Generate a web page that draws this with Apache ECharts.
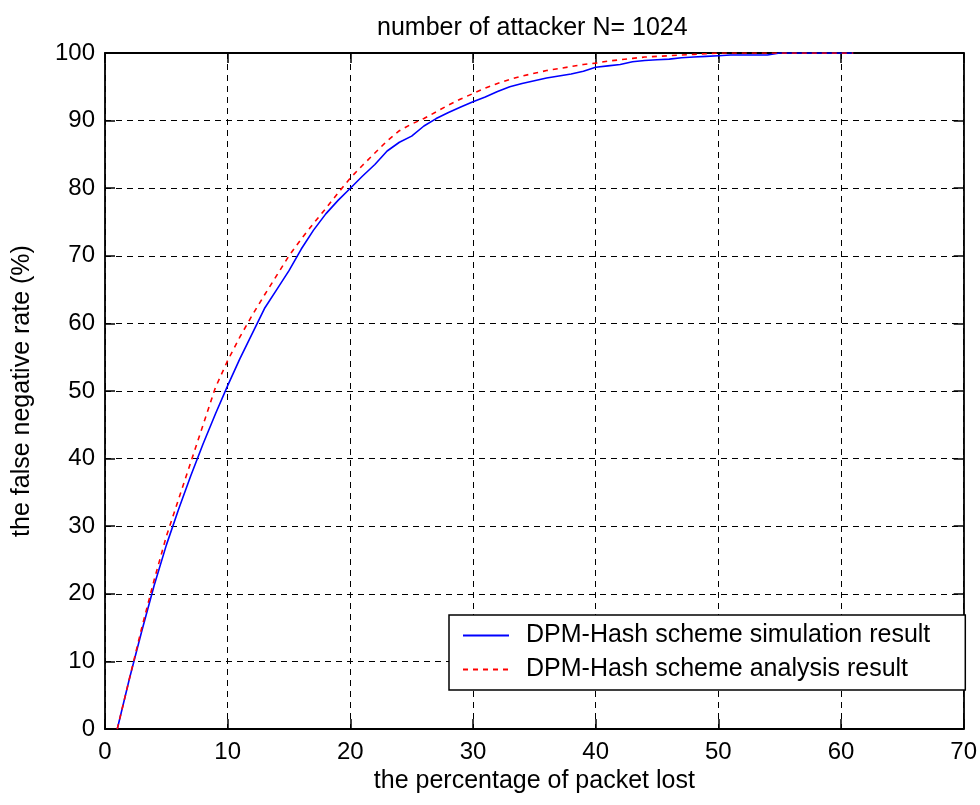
<!DOCTYPE html>
<html>
<head>
<meta charset="utf-8">
<script src="https://cdn.jsdelivr.net/npm/echarts@6/dist/echarts.min.js"></script>
<style>
  html, body { margin: 0; padding: 0; background: #fff; }
  #chart { width: 980px; height: 805px; }
</style>
</head>
<body>
<div id="chart"></div>
<script>
// packet loss percentage (x)
var lossPct = [1, 2, 3, 4, 5, 6, 7, 8, 9, 10,
    11, 12, 13, 14, 15, 16, 17, 18, 19, 20,
    21, 22, 23, 24, 25, 26, 27, 28, 29, 30,
    31, 32, 33, 34, 35, 36, 37, 38, 39, 40,
    41, 42, 43, 44, 45, 46, 47, 48, 49, 50,
    51, 52, 53, 54, 55, 56, 57, 58, 59, 60, 61];

// simulation result (blue solid)
var simRate = [0, 7.5, 14.5, 21.2, 27.2, 32.5, 37.5, 42.2, 46.6, 50.8,
    54.8, 58.5, 62.2, 65.0, 67.8, 71.0, 73.8, 76.2, 78.2, 80.0,
    81.8, 83.5, 85.5, 86.8, 87.7, 89.2, 90.3, 91.2, 92.0, 92.8,
    93.5, 94.3, 95.0, 95.5, 95.9, 96.3, 96.6, 96.9, 97.3, 97.9,
    98.1, 98.3, 98.7, 98.9, 99.0, 99.1, 99.3, 99.4, 99.5, 99.6,
    99.7, 99.7, 99.7, 99.7, 100, 100, 100, 100, 100, 100, 100];

// analysis result (red dashed)
var anaRate = [0, 7.5, 15.0, 22.0, 28.5, 34.0, 39.5, 45.0, 50.5, 54.5,
    58.0, 61.2, 64.2, 67.1, 70.0, 72.5, 74.8, 77.0, 79.3, 81.5,
    83.4, 85.2, 87.0, 88.5, 89.5, 90.3, 91.3, 92.3, 93.2, 94.0,
    94.8, 95.5, 96.1, 96.6, 97.0, 97.4, 97.7, 98.0, 98.3, 98.5,
    98.8, 99.0, 99.2, 99.4, 99.5, 99.6, 99.7, 99.8, 99.9, 100,
    100, 100, 100, 100, 100, 100, 100, 100, 100, 100, 100];

var seriesNames = ['DPM-Hash scheme simulation result', 'DPM-Hash scheme analysis result'];

function pairs(xs, ys) {
    var out = [];
    for (var i = 0; i < xs.length; i++) {
        out.push([xs[i], ys[i]]);
    }
    return out;
}

var FONT = 'Arial, "Liberation Sans", sans-serif';

var gridLine = { show: true, lineStyle: { color: '#000', width: 1, type: [6, 5] } };
var frame = { show: true, onZero: false, lineStyle: { color: '#000', width: 1.8 } };
var innerTick = { show: true, inside: true, length: 10, lineStyle: { color: '#000', width: 1.5 } };

var option = {
    backgroundColor: '#fff',
    animation: false,
    title: {
        text: 'number of attacker N= 1024',
        left: 372,
        top: 11,
        textStyle: { fontFamily: FONT, fontSize: 25, fontWeight: 'normal', color: '#000' }
    },
    grid: { left: 105, right: 15, top: 53, bottom: 76, containLabel: false },
    legend: {
        orient: 'vertical',
        left: 449,
        top: 615,
        padding: [8, 35, 8, 13],
        itemGap: 9,
        itemWidth: 46,
        itemHeight: 24,
        backgroundColor: '#fff',
        borderColor: '#000',
        borderWidth: 1.5,
        borderRadius: 0,
        selectedMode: false,
        itemStyle: { opacity: 0 },
        textStyle: { fontFamily: FONT, fontSize: 25, color: '#000', padding: [0, 0, 0, 12] },
        data: seriesNames
    },
    xAxis: [
        {
            type: 'value', min: 0, max: 70, interval: 10,
            name: 'the percentage of packet lost',
            nameLocation: 'middle', nameGap: 35,
            nameTextStyle: { fontFamily: FONT, fontSize: 25, color: '#000' },
            axisLine: frame, axisTick: innerTick, splitLine: gridLine,
            axisLabel: { margin: 11, fontFamily: FONT, fontSize: 24, color: '#000' }
        },
        {
            type: 'value', min: 0, max: 70, interval: 10, position: 'top',
            axisLine: frame, axisTick: innerTick,
            splitLine: { show: false }, axisLabel: { show: false }
        }
    ],
    yAxis: [
        {
            type: 'value', min: 0, max: 100, interval: 10,
            name: 'the false negative rate (%)',
            nameLocation: 'middle', nameGap: 70,
            nameTextStyle: { fontFamily: FONT, fontSize: 25, color: '#000' },
            axisLine: frame, axisTick: innerTick, splitLine: gridLine,
            axisLabel: { margin: 10, fontFamily: FONT, fontSize: 24, color: '#000' }
        },
        {
            type: 'value', min: 0, max: 100, interval: 10, position: 'right',
            axisLine: frame, axisTick: innerTick,
            splitLine: { show: false }, axisLabel: { show: false }
        }
    ],
    series: [
        {
            name: seriesNames[0],
            type: 'line',
            symbol: 'none',
            z: 3,
            lineStyle: { color: '#0000ff', width: 1.6 },
            itemStyle: { color: '#0000ff' },
            data: pairs(lossPct, simRate)
        },
        {
            name: seriesNames[1],
            type: 'line',
            symbol: 'none',
            z: 4,
            lineStyle: { color: '#ff0000', width: 1.6, type: [5, 5] },
            itemStyle: { color: '#ff0000' },
            data: pairs(lossPct, anaRate)
        }
    ]
};

var chart = echarts.init(document.getElementById('chart'), null, { renderer: 'canvas' });
chart.setOption(option);
</script>
</body>
</html>
